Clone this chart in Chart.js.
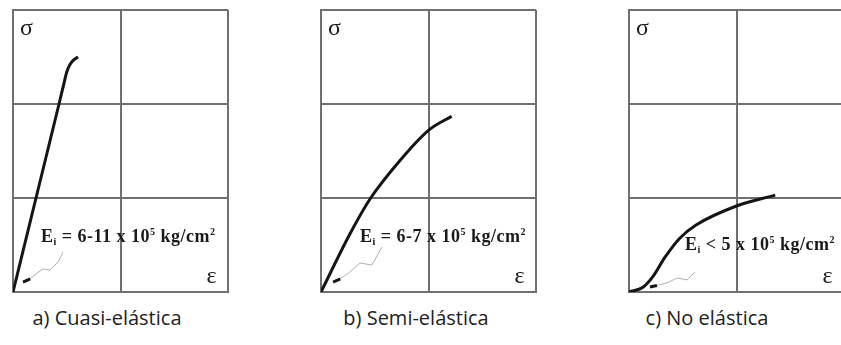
<!DOCTYPE html>
<html lang="es">
<head>
  <meta charset="UTF-8">
  <title>Curvas esfuerzo-deformación</title>
  <script src="https://cdn.jsdelivr.net/npm/chart.js"></script>
  <style>
    body { margin: 0; background: #fff; overflow: hidden; width: 841px; height: 345px; position: relative; }
    canvas { position: absolute; top: 0; }
    .caption { position: absolute; top: 304px; font-family: "Open Sans", sans-serif; font-size: 20px; color: #222; white-space: nowrap; transform: translateX(-50%); }
  </style>
</head>
<body>
  <canvas id="c1" width="235" height="302" style="left:3px"></canvas>
  <canvas id="c2" width="235" height="302" style="left:311px"></canvas>
  <canvas id="c3" width="235" height="302" style="left:619px"></canvas>
  <div class="caption" style="left:107px">a) Cuasi-elástica</div>
  <div class="caption" style="left:416px">b) Semi-elástica</div>
  <div class="caption" style="left:707px">c) No elástica</div>

  <script>
    // grid divisions (ε horizontal, σ vertical)
    const epsTicks = [0, 1, 2];
    const sigmaTicks = [0, 1, 2, 3];

    // a) cuasi-elástica
    const epsA = [0, 0.214, 0.428, 0.47, 0.5, 0.53, 0.565, 0.605];
    const sigA = [0, 1, 2, 2.2, 2.34, 2.42, 2.47, 2.5];
    // b) semi-elástica
    const epsB = [0, 0.27, 0.462, 0.735, 1.0, 1.216];
    const sigB = [0, 0.62, 1.0, 1.4, 1.72, 1.87];
    // c) no elástica
    const epsC = [0, 0.13, 0.22, 0.335, 0.47, 0.62, 1.0, 1.36];
    const sigC = [0, 0.05, 0.16, 0.37, 0.57, 0.71, 0.915, 1.03];

    // líneas guía del módulo inicial
    const leadXA = [0.465, 0.42, 0.344, 0.28, 0.223, 0.16];
    const leadYA = [0.425, 0.32, 0.234, 0.245, 0.2, 0.14];
    const leadXB = [0.567, 0.474, 0.363, 0.27, 0.18];
    const leadYB = [0.479, 0.287, 0.309, 0.213, 0.14];
    const leadXC = [0.614, 0.54, 0.447, 0.353, 0.26];
    const leadYC = [0.213, 0.128, 0.149, 0.096, 0.07];
    const arrowXA = [0.16, 0.093], arrowYA = [0.14, 0.106];
    const arrowXB = [0.18, 0.112], arrowYB = [0.14, 0.106];
    const arrowXC = [0.26, 0.195], arrowYC = [0.07, 0.053];

    const moduli = ["6-11", "6-7", "5"];
    const modSep = ["=", "=", "<"];
    const textPos = [[0.26, 0.53], [0.363, 0.53], [0.52, 0.447]];

    function pts(xs, ys) {
      return xs.map((x, i) => ({ x: x, y: ys[i] }));
    }

    const gridColor = "#707070";

    const textPlugin = {
      id: "textos",
      afterDatasetsDraw(chart) {
        const ctx = chart.ctx;
        const xs = chart.scales.x, ys = chart.scales.y;
        const o = chart.options.plugins.textos;
        ctx.save();
        ctx.fillStyle = "#1a1a1a";
        ctx.textBaseline = "alphabetic";
        ctx.font = "24px 'Liberation Serif', serif";
        ctx.fillText("σ", xs.getPixelForValue(0.065), ys.getPixelForValue(2.73));
        ctx.fillText("ε", xs.getPixelForValue(1.8), ys.getPixelForValue(0.096));

        // E_i = ... x 10^5 kg/cm^2
        let x = xs.getPixelForValue(o.pos[0]);
        const y = ys.getPixelForValue(o.pos[1]);
        const big = "bold 18px 'Liberation Serif', serif";
        const small = "bold 10px 'Liberation Serif', serif";
        ctx.letterSpacing = "0.5px";
        const parts = [
          ["E", big, 0], ["i", small, 3], [" " + o.sep + " " + o.mod + " x 10", big, 0],
          ["5", small, -7], [" kg/cm", big, 0], ["2", small, -7]
        ];
        parts.forEach(p => {
          ctx.font = p[1];
          ctx.fillText(p[0], x, y + p[2]);
          x += ctx.measureText(p[0]).width;
        });
        ctx.restore();
      }
    };

    function makeChart(id, curve, lead, arrow, i) {
      new Chart(document.getElementById(id), {
        type: "scatter",
        data: {
          datasets: [
            { data: curve, showLine: true, borderColor: "#151515", borderWidth: 3, pointRadius: 0, cubicInterpolationMode: "monotone" },
            { data: lead, showLine: true, borderColor: "#b0b0b0", borderWidth: 1, pointRadius: 0, tension: 0 },
            { data: arrow, showLine: true, borderColor: "#151515", borderWidth: 3, pointRadius: 0, tension: 0 }
          ]
        },
        options: {
          responsive: false,
          animation: false,
          layout: { padding: { left: 10, right: 10, top: 10, bottom: 10 } },
          plugins: {
            legend: { display: false },
            tooltip: { enabled: false },
            textos: { pos: textPos[i], mod: moduli[i], sep: modSep[i] }
          },
          scales: {
            x: {
              type: "linear", min: epsTicks[0], max: epsTicks[epsTicks.length - 1],
              afterBuildTicks: s => { s.ticks = epsTicks.map(v => ({ value: v })); },
              ticks: { display: false },
              grid: { color: gridColor, lineWidth: 2, drawTicks: false },
              border: { color: gridColor, width: 2 }
            },
            y: {
              type: "linear", min: sigmaTicks[0], max: sigmaTicks[sigmaTicks.length - 1],
              afterBuildTicks: s => { s.ticks = sigmaTicks.map(v => ({ value: v })); },
              ticks: { display: false },
              grid: { color: gridColor, lineWidth: 2, drawTicks: false },
              border: { color: gridColor, width: 2 }
            }
          }
        },
        plugins: [textPlugin]
      });
    }

    makeChart("c1", pts(epsA, sigA), pts(leadXA, leadYA), pts(arrowXA, arrowYA), 0);
    makeChart("c2", pts(epsB, sigB), pts(leadXB, leadYB), pts(arrowXB, arrowYB), 1);
    makeChart("c3", pts(epsC, sigC), pts(leadXC, leadYC), pts(arrowXC, arrowYC), 2);
  </script>
</body>
</html>
